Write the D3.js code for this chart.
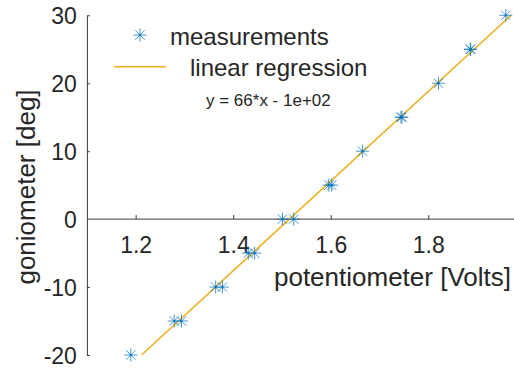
<!DOCTYPE html>
<html>
<head>
<meta charset="utf-8">
<script src="https://cdn.jsdelivr.net/npm/d3@7"></script>
<style>
  html, body { margin: 0; padding: 0; background: #fff; }
  svg { display: block; }
  text { font-family: "Liberation Sans", Arial, Helvetica, sans-serif; fill: #262626; }
</style>
</head>
<body>
<svg id="chart" width="514" height="369"></svg>
<script>
// Calibration measurements: potentiometer voltage vs goniometer angle
const voltage = [1.190, 1.279, 1.294, 1.364, 1.378, 1.431, 1.444, 1.501, 1.524,
                 1.596, 1.602, 1.665, 1.744, 1.746, 1.821, 1.886, 1.887, 1.959];
const angle   = [-20, -15, -15, -10, -10, -5, -5, 0, 0,
                 5, 5, 10, 15, 15, 20, 25, 25, 30];

// Linear fit y = slope*x + intercept, drawn over the measured angle span
const fitSlope = 66;
const fitIntercept = -100;
const fitAngleSpan = [-20, 30];

const xTicks = [1.2, 1.4, 1.6, 1.8];
const xTickLabels = ["1.2", "1.4", "1.6", "1.8"];
const yTicks = [-20, -10, 0, 10, 20, 30];
const yTickLabels = ["-20", "-10", "0", "10", "20", "30"];

const legendLabels = ["measurements", "linear regression"];
const fitText = "y = 66*x - 1e+02";
const xLabel = "potentiometer [Volts]";
const yLabel = "goniometer [deg]";

const blue = "#0072BD";
const gold = "#EDB120";
const axisColor = "#3a3a3a";

const svg = d3.select("#chart");

const x = d3.scaleLinear().domain([1.1, 2.0]).range([86.9, 525.8]);
const y = d3.scaleLinear().domain([-20, 30]).range([355, 15.3]);

// Axes crossing at the origin (x axis sits at angle 0)
const xAxis = d3.axisTop(x)
  .tickValues(xTicks)
  .tickFormat((d, i) => "")
  .tickSizeInner(4).tickSizeOuter(0);
const gx = svg.append("g")
  .attr("transform", `translate(0,${y(0)})`)
  .call(xAxis);
gx.select(".domain").attr("stroke", axisColor).attr("d", `M${x.range()[0]},0H520`);
gx.selectAll(".tick line").attr("stroke", axisColor);

gx.selectAll(".tick").append("text")
  .text((d, i) => xTickLabels[i])
  .attr("y", 34)
  .attr("text-anchor", "middle")
  .style("font-size", "23px")
  .attr("fill", "#262626");

const yAxis = d3.axisRight(y)
  .tickValues(yTicks)
  .tickFormat(() => "")
  .tickSizeInner(3).tickSizeOuter(0);
const gy = svg.append("g")
  .attr("transform", `translate(${x(1.1)},0)`)
  .call(yAxis);
gy.select(".domain").attr("stroke", axisColor);
gy.selectAll(".tick line").attr("stroke", axisColor)
  .attr("display", d => d === 0 ? "none" : null);
gy.selectAll(".tick").append("text")
  .text((d, i) => yTickLabels[i])
  .attr("x", -10)
  .attr("dy", "0.36em")
  .attr("text-anchor", "end")
  .style("font-size", "23px")
  .attr("fill", "#262626");

// Axis labels
svg.append("text")
  .attr("x", 511).attr("y", 286)
  .attr("text-anchor", "end")
  .style("font-size", "26px")
  .text(xLabel);

svg.append("text")
  .attr("transform", `translate(35,187) rotate(-90)`)
  .attr("text-anchor", "middle")
  .style("font-size", "26px")
  .text(yLabel);

// Regression line
const fitPts = fitAngleSpan.map(a => [(a - fitIntercept) / fitSlope, a]);
svg.append("path")
  .attr("d", d3.line().x(d => x(d[0])).y(d => y(d[1]))(fitPts))
  .attr("fill", "none")
  .attr("stroke", gold)
  .attr("stroke-width", 1.6);

// Asterisk marker: horizontal, vertical and two diagonal strokes
function star(g, cx, cy) {
  const r = 6.5, d = r * 0.72;
  const s = g.append("g").attr("transform", `translate(${cx},${cy})`)
    .attr("stroke", blue).attr("stroke-width", 1).attr("stroke-opacity", 0.72);
  s.append("line").attr("x1", -r).attr("x2", r).attr("y1", 0).attr("y2", 0);
  s.append("line").attr("y1", -r).attr("y2", r).attr("x1", 0).attr("x2", 0);
  s.append("line").attr("x1", -d).attr("y1", -d).attr("x2", d).attr("y2", d);
  s.append("line").attr("x1", -d).attr("y1", d).attr("x2", d).attr("y2", -d);
  s.append("circle").attr("r", 1.1).attr("fill", blue).attr("stroke", "none");
}

const pts = svg.append("g");
voltage.forEach((v, i) => star(pts, x(v), y(angle[i])));

// Legend
const lg = svg.append("g");
star(lg, 140, 35);
lg.append("text").attr("x", 170).attr("y", 45)
  .style("font-size", "24px").text(legendLabels[0]);
lg.append("line")
  .attr("x1", 114).attr("x2", 166).attr("y1", 66.7).attr("y2", 66.7)
  .attr("stroke", gold).attr("stroke-width", 1.6);
lg.append("text").attr("x", 190).attr("y", 76)
  .style("font-size", "24px").text(legendLabels[1]);
lg.append("text").attr("x", 206).attr("y", 105.5)
  .style("font-size", "17px").text(fitText);
</script>
</body>
</html>
